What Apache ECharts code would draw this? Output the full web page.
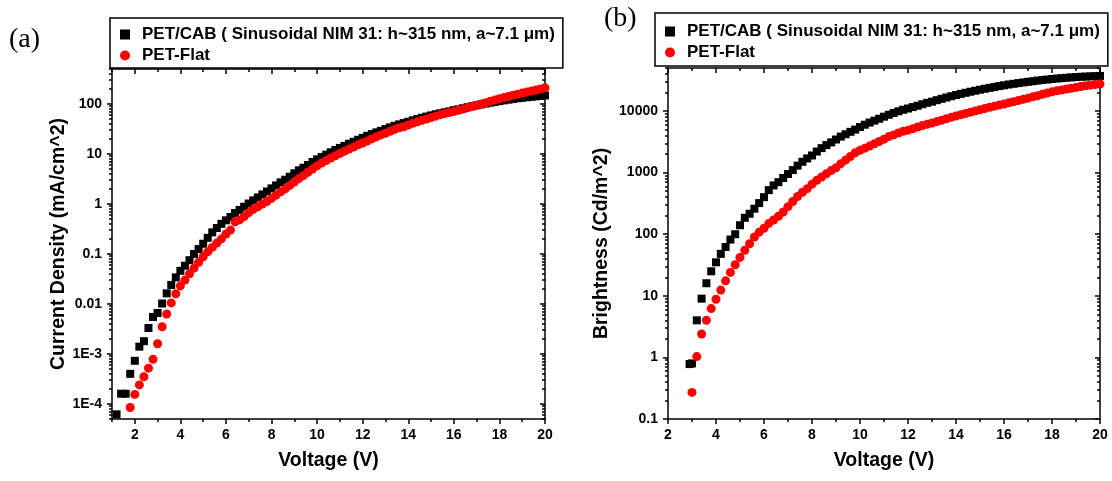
<!DOCTYPE html>
<html><head><meta charset="utf-8">
<script src="https://cdn.jsdelivr.net/npm/echarts@6/dist/echarts.min.js"></script>
<style>html,body{margin:0;padding:0;background:#fff}#c{width:1112px;height:481px}</style>
</head><body><div id="c"></div>
<script>
// ---------- data ----------
const seriesNames = ['PET/CAB ( Sinusoidal NIM 31: h~315 nm, a~7.1 \u03bcm)', 'PET-Flat'];

const voltageA = [1.2,1.4,1.6,1.8,2.0,2.2,2.4,2.6,2.8,3.0,
  3.2,3.4,3.6,3.8,4.0,4.2,4.4,4.6,4.8,5.0,
  5.2,5.4,5.6,5.8,6.0,6.2,6.4,6.6,6.8,7.0,
  7.2,7.4,7.6,7.8,8.0,8.2,8.4,8.6,8.8,9.0,
  9.2,9.4,9.6,9.8,10.0,10.2,10.4,10.6,10.8,11.0,
  11.2,11.4,11.6,11.8,12.0,12.2,12.4,12.6,12.8,13.0,
  13.2,13.4,13.6,13.8,14.0,14.2,14.4,14.6,14.8,15.0,
  15.2,15.4,15.6,15.8,16.0,16.2,16.4,16.6,16.8,17.0,
  17.2,17.4,17.6,17.8,18.0,18.2,18.4,18.6,18.8,19.0,
  19.2,19.4,19.6,19.8,20.0];

const currentPetCab = [6.2e-5,1.6e-4,1.6e-4,4.0e-4,7.3e-4,1.4e-3,1.8e-3,3.3e-3,5.5e-3,6.6e-3,
  0.0102,0.0163,0.024,0.034,0.046,0.058,0.075,0.10,0.125,0.16,
  0.21,0.27,0.33,0.40,0.47,0.55,0.66,0.76,0.88,1.02,
  1.18,1.35,1.55,1.78,2.05,2.35,2.7,3.05,3.5,4.1,
  4.7,5.3,6.0,6.9,7.8,8.7,9.7,10.8,12.0,13.2,
  14.5,16.0,17.5,19.2,21,23,25,27,29,31.5,
  34,36.5,39,41.5,44,47,50,53,56,59,
  62,65,68,71,75,78,82,86,90,94,
  98,102,106,110,114,118,122,126,130,133,
  136,139,142,145,148];

const currentPetFlat = [null,null,null,8.5e-5,1.55e-4,2.4e-4,3.5e-4,5.2e-4,7.8e-4,1.6e-3,
  3.5e-3,6.3e-3,0.0105,0.016,0.023,0.030,0.040,0.052,0.068,0.088,
  0.11,0.135,0.165,0.20,0.25,0.30,0.44,0.48,0.56,0.67,
  0.78,0.88,1.0,1.12,1.3,1.5,1.75,2.0,2.35,2.75,
  3.2,3.7,4.3,5.0,5.8,6.6,7.4,8.3,9.2,10.2,
  11.3,12.5,13.8,15.2,16.6,18.2,20,22,24,26,
  28.5,31,33.5,35,38,41,44,47,50,53.5,
  57,60.5,64,67.5,71,75,79,84,89,94,
  100,106,113,120,127,134,141,149,157,165,
  173,181,190,199,210];

const voltageB = [2.9,3.0,
  3.2,3.4,3.6,3.8,4.0,4.2,4.4,4.6,4.8,5.0,
  5.2,5.4,5.6,5.8,6.0,6.2,6.4,6.6,6.8,7.0,
  7.2,7.4,7.6,7.8,8.0,8.2,8.4,8.6,8.8,9.0,
  9.2,9.4,9.6,9.8,10.0,10.2,10.4,10.6,10.8,11.0,
  11.2,11.4,11.6,11.8,12.0,12.2,12.4,12.6,12.8,13.0,
  13.2,13.4,13.6,13.8,14.0,14.2,14.4,14.6,14.8,15.0,
  15.2,15.4,15.6,15.8,16.0,16.2,16.4,16.6,16.8,17.0,
  17.2,17.4,17.6,17.8,18.0,18.2,18.4,18.6,18.8,19.0,
  19.2,19.4,19.6,19.8,20.0];

const brightPetCab = [0.78,0.8,
  4.0,9.0,16,25,35,48,62,82,100,140,
  185,215,260,320,400,520,620,700,820,950,
  1100,1300,1500,1700,1900,2200,2500,2800,3100,3450,
  3850,4200,4600,5000,5500,6000,6500,7000,7500,8100,
  8700,9300,9900,10500,11000,11600,12200,12900,13600,14200,
  15000,15800,16600,17400,18200,19000,19800,20600,21400,22200,
  23000,23800,24600,25400,26200,27000,27700,28400,29100,29800,
  30500,31200,31900,32500,33100,33700,34200,34700,35200,35600,
  36000,36300,36600,36900,37200];

const brightPetFlat = [null,0.27,
  1.03,2.4,4.0,6.2,8.8,12.4,17.5,24,32,42,
  55,70,90,108,125,150,170,195,230,280,
  340,410,480,550,650,750,850,960,1080,1200,
  1400,1600,1830,2100,2300,2500,2700,2950,3200,3500,
  3850,4100,4400,4700,4900,5150,5500,5800,6100,6400,
  6750,7100,7500,7900,8300,8700,9100,9600,10000,10500,
  11000,11500,12000,12500,13000,13600,14200,14800,15500,16200,
  17000,17800,18700,19600,20500,21300,22000,22800,23500,24200,
  25000,25700,26300,27000,27500];

const xTickLabels = [2,4,6,8,10,12,14,16,18,20];
const xMinorA = [1,3,5,7,9,11,13,15,17,19];
const xMinorB = [3,5,7,9,11,13,15,17,19];
const yTickLabelsA = [1e-4,1e-3,0.01,0.1,1,10,100];
const yTickLabelsB = [0.1,1,10,100,1000,10000];

// ---------- helpers ----------
function pairs(xs, ys){ const out=[]; xs.forEach((x,i)=>{ if(ys[i]!=null) out.push([x,ys[i]]); }); return out; }
function logMinors(lo, hi){ const out=[]; for(let e=-6;e<=6;e++){ for(let m=2;m<=9;m++){ const v=m*Math.pow(10,e); if(v>=lo*0.999 && v<=hi*1.001) out.push(v);} } return out; }
const FONT = "'Liberation Sans', Arial, sans-serif";
const lineStyle = {color:'#000', width:1.5};
const labelStyle = {color:'#000', fontFamily:FONT, fontWeight:'bold', fontSize:14};
const nameStyle = {color:'#000', fontFamily:FONT, fontWeight:'bold', fontSize:19.5};

function fmtLog(v){
  const e = Math.round(Math.log10(v));
  if (e >= 0) return String(Math.round(Math.pow(10,e)));
  if (e >= -2) return Math.pow(10,e).toFixed(-e);
  return '1E' + e;
}

function makeX(grid, min, max, majors, minors){
  const base = {type:'value', gridIndex:grid, min:min, max:max, splitLine:{show:false}};
  return [
    Object.assign({}, base, {position:'bottom', axisLine:{show:true, onZero:false, lineStyle},
      axisTick:{show:true, customValues:majors, length:5, inside:false, lineStyle},
      axisLabel:{show:true, customValues:majors, margin:9, ...labelStyle},
      name:'Voltage (V)', nameLocation:'middle', nameGap:32, nameTextStyle:nameStyle}),
    Object.assign({}, base, {position:'bottom', axisLine:{show:false, onZero:false},
      axisTick:{show:true, customValues:minors, length:3, inside:false, lineStyle},
      axisLabel:{show:false}}),
    Object.assign({}, base, {position:'top', axisLine:{show:true, onZero:false, lineStyle},
      axisTick:{show:true, customValues:majors, length:5, inside:true, lineStyle},
      axisLabel:{show:false}}),
    Object.assign({}, base, {position:'top', axisLine:{show:false, onZero:false},
      axisTick:{show:true, customValues:minors, length:3, inside:true, lineStyle},
      axisLabel:{show:false}})
  ];
}
function makeY(grid, min, max, majors, name, gap){
  const minors = logMinors(min, max);
  const base = {type:'log', logBase:10, gridIndex:grid, min:min, max:max, splitLine:{show:false}, minorTick:{show:false}};
  return [
    Object.assign({}, base, {position:'left', axisLine:{show:true, onZero:false, lineStyle},
      axisTick:{show:true, customValues:majors, length:5, inside:false, lineStyle},
      axisLabel:{show:true, customValues:majors, margin:10, formatter:fmtLog, ...labelStyle},
      name:name, nameLocation:'middle', nameGap:gap, nameTextStyle:nameStyle}),
    Object.assign({}, base, {position:'left', axisLine:{show:false, onZero:false},
      axisTick:{show:true, customValues:minors, length:3, inside:false, lineStyle},
      axisLabel:{show:false}}),
    Object.assign({}, base, {position:'right', axisLine:{show:true, onZero:false, lineStyle},
      axisTick:{show:true, customValues:majors, length:5, inside:true, lineStyle},
      axisLabel:{show:false}}),
    Object.assign({}, base, {position:'right', axisLine:{show:false, onZero:false},
      axisTick:{show:true, customValues:minors, length:3, inside:true, lineStyle},
      axisLabel:{show:false}})
  ];
}
function makeLegend(left, top, pad){
  return {
    data:[{name:seriesNames[0], icon:'rect'}, {name:seriesNames[1], icon:'circle'}],
    orient:'vertical', left:left, top:top, itemWidth:10, itemHeight:10, itemGap:4,
    padding:pad, borderColor:'#000', borderWidth:1.5, backgroundColor:'#fff',
    selectedMode:false,
    textStyle:{color:'#000', fontFamily:FONT, fontWeight:'bold', fontSize:17, padding:[0,0,0,7]}
  };
}

const chart = echarts.init(document.getElementById('c'));
chart.setOption({
  animation:false,
  backgroundColor:'#fff',
  title:[
    {text:'(a)', left:9, top:26, padding:0, textStyle:{fontFamily:"'Liberation Serif', 'Times New Roman', serif", fontWeight:'normal', fontSize:28, color:'#000'}},
    {text:'(b)', left:604, top:5, padding:0, textStyle:{fontFamily:"'Liberation Serif', 'Times New Roman', serif", fontWeight:'normal', fontSize:28, color:'#000'}}
  ],
  legend:[makeLegend(110,18,[8,8,4,10]), makeLegend(655,13,[10,8,5,10])],
  grid:[
    {left:112, right:567, top:69, bottom:62},
    {left:668, right:12, top:68, bottom:62}
  ],
  xAxis:[...makeX(0, 1, 20, xTickLabels, xMinorA), ...makeX(1, 2, 20, xTickLabels, xMinorB)],
  yAxis:[...makeY(0, 5e-5, 500, yTickLabelsA, 'Current Density (mA/cm^2)', 43),
         ...makeY(1, 0.1, 50000, yTickLabelsB, 'Brightness (Cd/m^2)', 56)],
  series:[
    {type:'scatter', name:seriesNames[0], xAxisIndex:0, yAxisIndex:0, data:pairs(voltageA, currentPetCab), symbol:'rect', symbolSize:8, itemStyle:{color:'#000', opacity:1}},
    {type:'scatter', name:seriesNames[1], xAxisIndex:0, yAxisIndex:0, data:pairs(voltageA, currentPetFlat), symbol:'circle', symbolSize:9, itemStyle:{color:'#ff0000', opacity:1}},
    {type:'scatter', name:seriesNames[0], xAxisIndex:4, yAxisIndex:4, data:pairs(voltageB, brightPetCab), symbol:'rect', symbolSize:8, itemStyle:{color:'#000', opacity:1}},
    {type:'scatter', name:seriesNames[1], xAxisIndex:4, yAxisIndex:4, data:pairs(voltageB, brightPetFlat), symbol:'circle', symbolSize:9, itemStyle:{color:'#ff0000', opacity:1}}
  ]
});
</script>
</body></html>
